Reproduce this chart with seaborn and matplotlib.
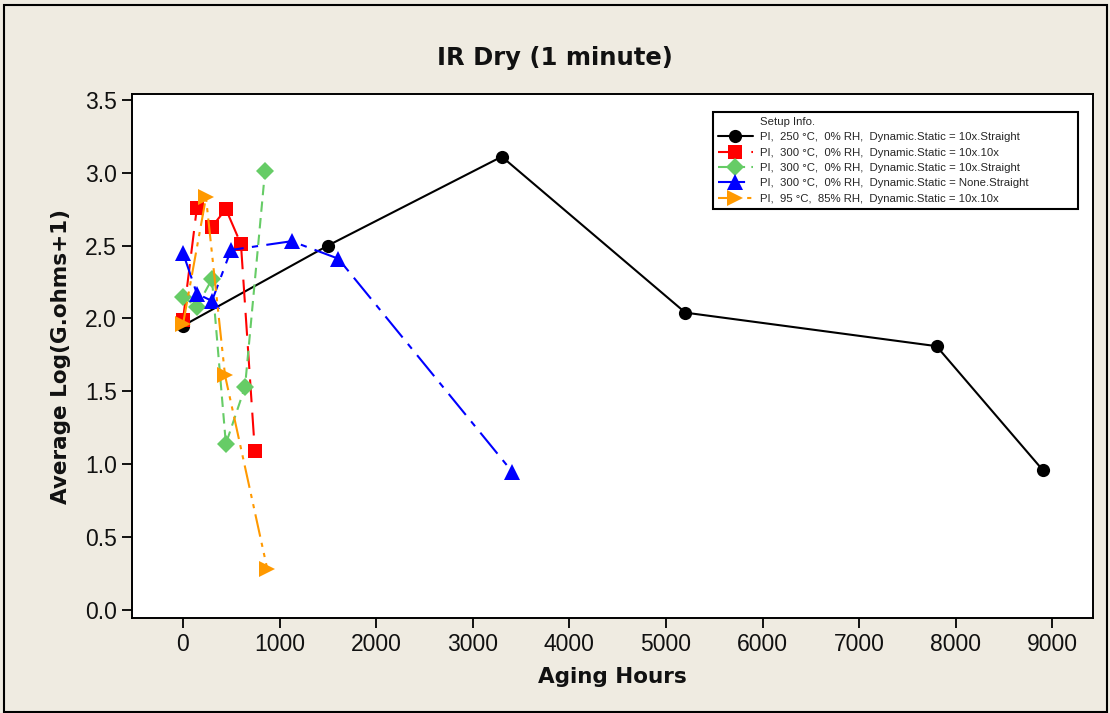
import matplotlib
matplotlib.use("Agg")
import matplotlib.pyplot as plt
from matplotlib.lines import Line2D
from matplotlib.patches import Rectangle
import numpy as np
import pandas as pd
import seaborn as sns

# ---- data -------------------------------------------------------------
labels = [
    "PI,  250 °C,  0% RH,  Dynamic.Static = 10x.Straight",
    "PI,  300 °C,  0% RH,  Dynamic.Static = 10x.10x",
    "PI,  300 °C,  0% RH,  Dynamic.Static = 10x.Straight",
    "PI,  300 °C,  0% RH,  Dynamic.Static = None.Straight",
    "PI,  95 °C,  85% RH,  Dynamic.Static = 10x.10x",
]

hours_250_straight = [0, 1500, 3300, 5200, 7800, 8900]
ir_250_straight = [1.95, 2.50, 3.11, 2.04, 1.81, 0.96]

hours_300_10x = [0, 144, 300, 444, 600, 744]
ir_300_10x = [1.99, 2.76, 2.63, 2.75, 2.51, 1.09]

hours_300_straight = [0, 144, 300, 444, 642, 849]
ir_300_straight = [2.15, 2.08, 2.27, 1.14, 1.53, 3.01]

hours_300_none = [0, 144, 300, 497, 1125, 1608, 3406]
ir_300_none = [2.45, 2.17, 2.12, 2.47, 2.53, 2.41, 0.95]

hours_95_10x = [0, 238, 435, 873]
ir_95_10x = [1.96, 2.83, 1.61, 0.28]

x_ticks = [0, 1000, 2000, 3000, 4000, 5000, 6000, 7000, 8000, 9000]
y_ticks = [0.0, 0.5, 1.0, 1.5, 2.0, 2.5, 3.0, 3.5]

series_hours = [hours_250_straight, hours_300_10x, hours_300_straight,
                hours_300_none, hours_95_10x]
series_ir = [ir_250_straight, ir_300_10x, ir_300_straight,
             ir_300_none, ir_95_10x]

frames = [pd.DataFrame({"hours": h, "ir": v, "setup": lab})
          for h, v, lab in zip(series_hours, series_ir, labels)]
df = pd.concat(frames, ignore_index=True)

# ---- styling per series ----------------------------------------------
colors = ["#000000", "#FF0000", "#66CC66", "#0000FF", "#FF9900"]
markers = ["o", "s", "D", "^", ">"]
msizes = [9.5, 9.5, 9.0, 11.0, 11.0]
linestyles = ["-", (0, (11, 5)), (0, (5, 3)), (0, (13, 4, 3, 4)),
              (0, (11, 3, 2, 3, 2, 3))]

bg = "#EFEBE1"

sns.set_theme(style="white")
plt.rcParams["font.family"] = ["DejaVu Sans"]

fig = plt.figure(figsize=(11.10, 7.13), dpi=100, facecolor=bg)
ax = fig.add_axes([0.1189, 0.1332, 0.9847 - 0.1189, 0.8682 - 0.1332])
ax.set_facecolor("white")

for lab, c, m, ms, ls in zip(labels, colors, markers, msizes, linestyles):
    sub = df[df["setup"] == lab]
    sns.lineplot(data=sub, x="hours", y="ir", ax=ax, color=c, marker=m,
                 markersize=ms, markeredgewidth=0, linewidth=1.5,
                 linestyle=ls, sort=False, legend=False, errorbar=None)

ax.set_xlim(-528, 9420)
ax.set_ylim(-0.055, 3.54)
ax.set_xticks(x_ticks)
ax.set_yticks(y_ticks)
ax.set_yticklabels([f"{v:.1f}" for v in y_ticks])
ax.tick_params(axis="both", which="major", direction="out", length=7,
               width=1.3, color="black", labelsize=16.5, pad=4,
               bottom=True, left=True)
for t in ax.get_xticklabels() + ax.get_yticklabels():
    t.set_fontfamily("Liberation Sans")
    t.set_color("#111111")
for sp in ax.spines.values():
    sp.set_visible(True)
    sp.set_color("black")
    sp.set_linewidth(1.4)

ax.set_xlabel("Aging Hours", fontsize=15.5, fontweight="bold", labelpad=8,
              color="#111111")
ax.set_ylabel("Average Log(G.ohms+1)", fontsize=15.5, fontweight="bold",
              labelpad=10, color="#111111")
fig.text(0.5, 0.919, "IR Dry (1 minute)", ha="center", va="center",
         fontsize=17.5, fontweight="bold", color="#111111")

# legend: header row with an empty handle so the text lines up with entries
handles = [Line2D([], [], linestyle="none")] + list(ax.lines[:5])
leg_labels = ["Setup Info."] + labels
leg = ax.legend(handles, leg_labels, loc="upper left",
                bbox_to_anchor=(0.6046, 0.966, 0.3798, 0.0), mode="expand",
                borderaxespad=0, fontsize=8.2, frameon=True, fancybox=False,
                framealpha=1, edgecolor="black", handlelength=3.1,
                handletextpad=0.6, labelspacing=0.48, borderpad=0.42)
leg.get_frame().set_linewidth(1.5)
for t in leg.get_texts():
    t.set_fontfamily("Liberation Sans")

fig.patches.append(Rectangle((0.004, 0.002), 0.993, 0.991, fill=False,
                             edgecolor="black", linewidth=1.5,
                             transform=fig.transFigure, figure=fig))

fig.savefig("out.png", dpi=100, facecolor=bg)
